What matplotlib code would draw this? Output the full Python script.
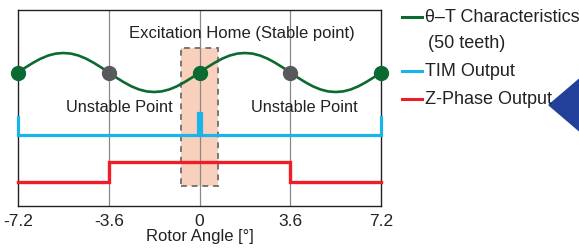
import matplotlib
matplotlib.use('Agg')
import matplotlib.pyplot as plt
from matplotlib.patches import Rectangle, Polygon

plt.rcParams['font.family'] = ['Liberation Sans', 'DejaVu Sans']

# rotor angle samples (deg) and normalised theta-T torque
angle = [-7.2 + 0.3 * i for i in range(49)]
torque = [0, .26, .5, .71, .87, .97, 1, .97, .87, .71, .5, .26,
          0, -.26, -.5, -.71, -.87, -.97, -1, -.97, -.87, -.71, -.5, -.26,
          0, .26, .5, .71, .87, .97, 1, .97, .87, .71, .5, .26,
          0, -.26, -.5, -.71, -.87, -.97, -1, -.97, -.87, -.71, -.5, -.26,
          0]

stable_x = [-7.2, 0, 7.2]
unstable_x = [-3.6, 3.6]

tim_x = [-7.2, -7.2, -0.07, -0.07, 0.07, 0.07, 7.2, 7.2]
tim_level = [1, 0, 0, 1.25, 1.25, 0, 0, 1]

z_x = [-7.2, -3.6, -3.6, 3.6, 3.6, 7.2]
z_level = [0, 0, 1, 1, 0, 0]

ticks = [-7.2, -3.6, 0, 3.6, 7.2]
tick_labels = ['-7.2', '-3.6', '0', '3.6', '7.2']

green = '#0b6a32'
blue = '#1ab3ea'
red = '#ee1d27'
txt = '#222222'

fig = plt.figure(figsize=(5.79, 2.49), dpi=100)
ax = fig.add_axes([18/579, 43/249, 363/579, 196/249])

# excitation home window
ax.add_patch(Rectangle((-0.72, 20), 1.44, 138, facecolor='#f9d0bc',
                       edgecolor='#777777', linestyle=(0, (3, 2.5)), lw=1.4, zorder=1))

for g in [-3.6, 0, 3.6]:
    ax.axvline(g, color='#888888', lw=0.9, zorder=2)

ax.plot(angle, [133.5 + 19.5 * t for t in torque], color=green, lw=1.9, zorder=3)
ax.plot(stable_x, [133.5] * len(stable_x), 'o', color=green, ms=10, zorder=4, clip_on=False)
ax.plot(unstable_x, [133.5] * len(unstable_x), 'o', color='#58595b', ms=10, zorder=4)

ax.plot(tim_x, [71 + 18 * v for v in tim_level], color=blue, lw=2.3, zorder=3,
        solid_joinstyle='miter', clip_on=False)
ax.plot(z_x, [24 + 20 * v for v in z_level], color=red, lw=2.4, zorder=3,
        solid_joinstyle='miter', clip_on=False)

ax.text(1.7, 173, 'Excitation Home (Stable point)', ha='center', va='center',
        fontsize=12, color=txt)
ax.text(-3.17, 99, 'Unstable Point', ha='center', va='center', fontsize=11.8, color=txt)
ax.text(4.15, 99, 'Unstable Point', ha='center', va='center', fontsize=11.8, color=txt)

ax.set_xlim(-7.2, 7.2)
ax.set_ylim(0, 196)
ax.set_xticks(ticks)
ax.set_xticklabels(tick_labels, fontsize=12.5, color=txt)
ax.set_yticks([])
ax.tick_params(axis='x', length=0, pad=6)
ax.set_xlabel('Rotor Angle [°]', fontsize=12, color=txt, labelpad=0)
for s in ax.spines.values():
    s.set_color('#222222')
    s.set_linewidth(1)

# cut-off caption above the plot
fig.text(185/579, 1 + 3/249, '(Image Chart)', ha='center', va='baseline', fontsize=12, color=txt)

# legend drawn by hand
legend = [(17, green, 'θ–T Characteristics'), (71, blue, 'TIM Output'), (99, red, 'Z-Phase Output')]
for y, c, lab in legend:
    fig.add_artist(plt.Line2D([402/579, 422/579], [1 - y/249] * 2, color=c, lw=2.2))
    fig.text(425/579, 1 - y/249, lab, ha='left', va='center', fontsize=13, color=txt)
fig.text(428/579, 1 - 43/249, '(50 teeth)', ha='left', va='center', fontsize=13, color=txt)

# navy arrow head at the right edge
fig.add_artist(Polygon([[549/579, 1 - 105/249], [590/579, 1 - 70/249], [590/579, 1 - 140/249]],
                       closed=True, transform=fig.transFigure, color='#22409a'))

fig.savefig('out.png', dpi=100)
